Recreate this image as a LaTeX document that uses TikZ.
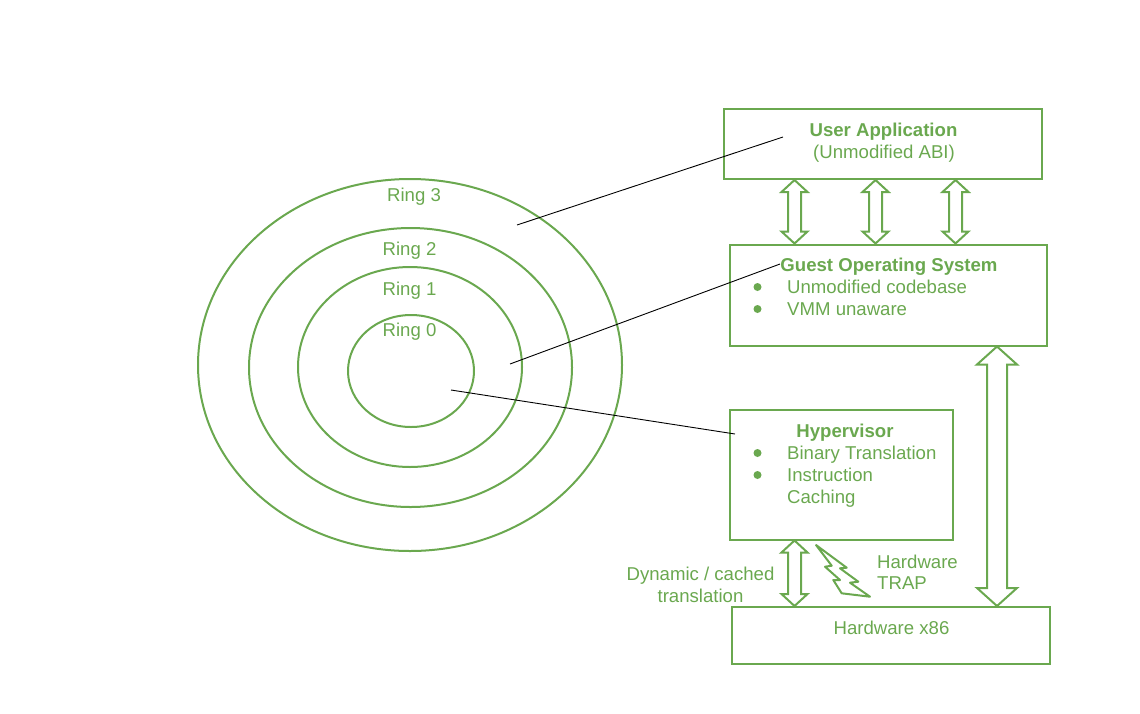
\documentclass[tikz,border=0pt]{standalone}
\usepackage{fontspec}
\setmainfont{Liberation Sans}
\usetikzlibrary{calc,shapes.geometric}
\definecolor{gfg}{HTML}{6AA84F}
\tikzset{
  ringline/.style={draw=gfg,line width=2pt,ellipse,inner sep=0pt},
  boxnode/.style={draw=gfg,line width=2pt,inner sep=0pt,anchor=north west},
  lbl/.style={text=gfg,font=\fontsize{18.6}{22}\selectfont,inner sep=0pt,anchor=base,align=center,yshift=-0.5pt},
  lblb/.style={lbl,font=\fontsize{18.6}{22}\selectfont\bfseries},
  lead/.style={draw=black,line width=0.9pt},
  bigarrow/.style={draw=gfg,line width=2pt,line join=miter,fill=white}
}
\newcommand{\dblarrow}[6]{% x, upper node, lower node, head half, shaft half, head len
  \coordinate (t) at (#1,0 |- #2.south);
  \coordinate (b) at (#1,0 |- #3.north);
  \draw[bigarrow] (t) -- ($(t)+(#4,#6)$) -- ($(t)+(#5,#6)$) -- ($(b)+(#5,-#6)$) -- ($(b)+(#4,-#6)$)
    -- (b) -- ($(b)+(-#4,-#6)$) -- ($(b)+(-#5,-#6)$) -- ($(t)+(-#5,#6)$) -- ($(t)+(-#4,#6)$) -- cycle;
}
\begin{document}
\begin{tikzpicture}[x=1pt,y=-1pt]
\useasboundingbox (0,0) rectangle (1140,713);
\node[ringline,minimum width=424pt,minimum height=372pt] (r3) at (410,365) {};
\node[ringline,minimum width=323pt,minimum height=279pt] (r2) at (410.5,367.5) {};
\node[ringline,minimum width=224pt,minimum height=200pt] (r1) at (410,367) {};
\node[ringline,minimum width=126pt,minimum height=112pt] (r0) at (411,371) {};
\node[lbl] (l3) at (414,201) {Ring 3};
\node[lbl] (l2) at (409.5,255) {Ring 2};
\node[lbl] (l1) at (409.5,295) {Ring 1};
\node[lbl] (l0) at (409.5,336) {Ring 0};

\node[boxnode,minimum width=318pt,minimum height=70pt] (user) at (722.5,108) {};
\node[boxnode,minimum width=317pt,minimum height=101pt] (guest) at (728.5,243.5) {};
\node[boxnode,minimum width=223pt,minimum height=130pt] (hyper) at (728.5,408.5) {};
\node[boxnode,minimum width=318pt,minimum height=57pt] (hw) at (730.5,606) {};

\node[lblb] (t1) at (883.5,136) {User Application};
\node[lbl] (t2) at (884,158) {(Unmodified ABI)};
\node[lblb] (t3) at (889,271) {Guest Operating System};
\fill[gfg] (757.5,287) circle (4pt);
\node[lbl,anchor=base west] (t4) at (787,293) {Unmodified codebase};
\fill[gfg] (757.5,309) circle (4pt);
\node[lbl,anchor=base west] (t5) at (787,315) {VMM unaware};
\node[lblb] (t6) at (845,437) {Hypervisor};
\fill[gfg] (757.5,453) circle (4pt);
\node[lbl,anchor=base west] (t7) at (787,459) {Binary Translation};
\fill[gfg] (757.5,475) circle (4pt);
\node[lbl,anchor=base west] (t8) at (787,481) {Instruction};
\node[lbl,anchor=base west] (t9) at (787,503) {Caching};
\node[lbl] (t10) at (700.5,580) {Dynamic / cached};
\node[lbl] (t11) at (700.5,602) {translation};
\node[lbl,anchor=base west] (t12) at (877,568) {Hardware};
\node[lbl,anchor=base west] (t13) at (877,589) {TRAP};
\node[lbl] (t14) at (891.5,634) {Hardware x86};

\coordinate (a3) at (517,225); \coordinate (e3) at (783,137);
\coordinate (a2) at (510,364); \coordinate (e2) at (780,264);
\coordinate (a0) at (451,390); \coordinate (e0) at (735,434);
\draw[lead] (a3) -- (e3);
\draw[lead] (a2) -- (e2);
\draw[lead] (a0) -- (e0);

\dblarrow{794.5}{user}{guest}{13}{6.5}{12}
\dblarrow{875.5}{user}{guest}{13}{6.5}{12}
\dblarrow{955.5}{user}{guest}{13}{6.5}{12}
\dblarrow{794.5}{hyper}{hw}{13}{6.5}{12}
\dblarrow{997}{guest}{hw}{20}{10}{18}

\draw[bigarrow,line join=round] (816,545) -- (846.7,567.7) -- (840,568.3) -- (858.3,581.7) -- (850,582.7) -- (870,596.7) -- (841.7,593.3) -- (833.3,580) -- (840,580) -- (825,566.7) -- (831.7,565.7) -- cycle;
\end{tikzpicture}
\end{document}
